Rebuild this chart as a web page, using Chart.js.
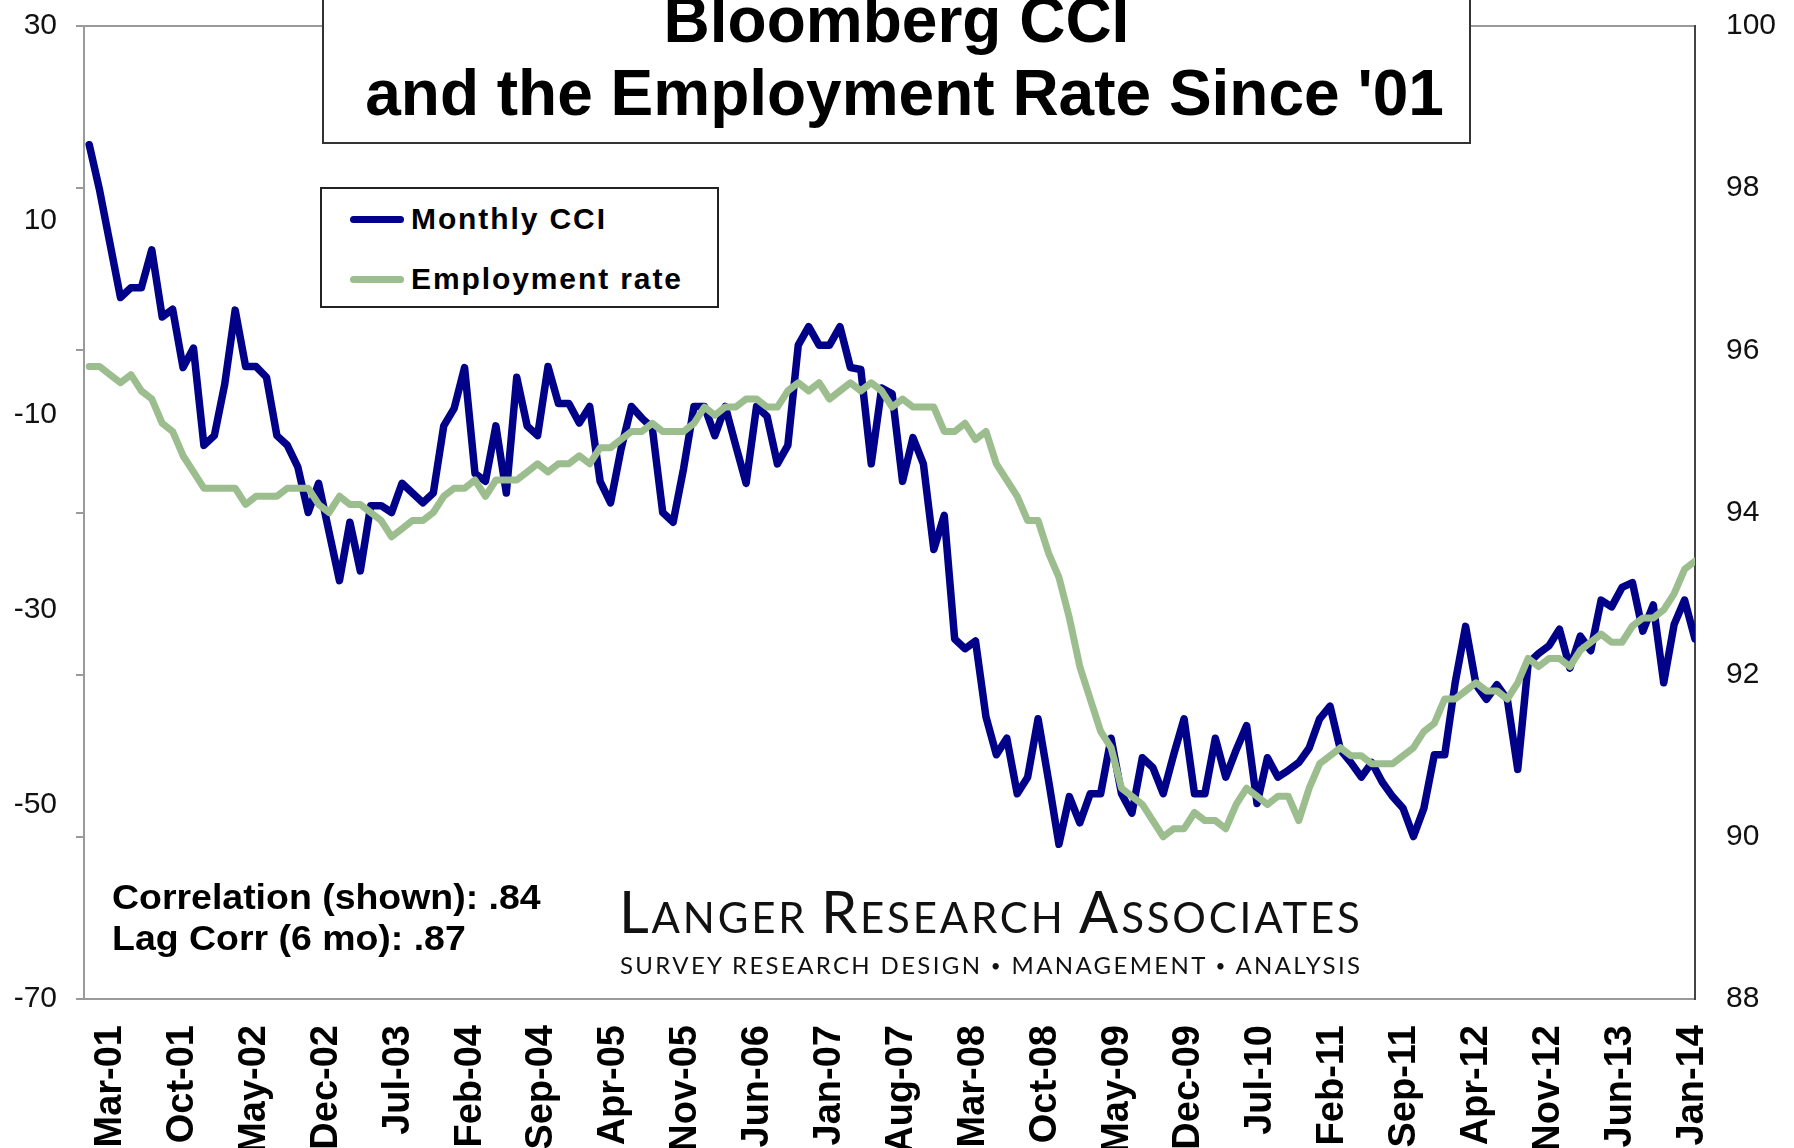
<!DOCTYPE html>
<html>
<head>
<meta charset="utf-8">
<title>Bloomberg CCI and the Employment Rate Since '01</title>
<script src="https://cdn.jsdelivr.net/npm/chart.js@4.4.1/dist/chart.umd.min.js"></script>
<style>
  html, body { margin: 0; padding: 0; background: #fff; }
  body {
    width: 1794px; height: 1148px; overflow: hidden; position: relative;
    font-family: "Liberation Sans", Arial, sans-serif; color: #000;
  }
  #chart { position: absolute; left: 0; top: 0; }

  /* title box, its top edge runs off the picture */
  .titlebox {
    position: absolute; left: 322px; top: -20px; width: 1149px; height: 164px;
    box-sizing: border-box; border: 2px solid #333; background: #fff;
  }
  .title {
    position: absolute; left: 322px; width: 1149px;
    text-align: center; font-weight: bold; font-size: 64px; line-height: 73px; white-space: nowrap;
  }
  .title.l1 { top: -16px; }
  .title.l2 { top: 57px; padding-left: 16px; box-sizing: border-box; }

  /* legend box */
  #legend {
    position: absolute; left: 320px; top: 187px; width: 399px; height: 121px;
    box-sizing: border-box; border: 2px solid #222; background: #fff;
  }
  #legend .row { height: 60px; display: flex; align-items: center; }
  #legend .swatch { display: inline-block; width: 54px; height: 7px; border-radius: 3.5px; margin-left: 28px; margin-right: 7px; }
  #legend .lab { font-weight: bold; font-size: 30px; letter-spacing: 1.9px; }

  .corr {
    position: absolute; left: 112px; top: 876px; font-weight: bold; font-size: 35px;
    line-height: 41px; transform: scaleX(1.07); transform-origin: left top; white-space: nowrap;
  }

  /* logo */
  .logo1 {
    position: absolute; left: 619px; top: 883px; font-family: Lato, "Open Sans", sans-serif;
    font-size: 42px; line-height: 56px; letter-spacing: 2.8px; color: #111; white-space: nowrap;
  }
  .logo1 .big { font-size: 58px; }
  .logo2 {
    position: absolute; left: 620px; top: 953px; font-family: Lato, "Open Sans", sans-serif;
    font-size: 24px; line-height: 24px; letter-spacing: 2.35px; color: #111; white-space: nowrap;
  }
  .logo2 .dot { font-size: 17px; vertical-align: 2px; }
</style>
</head>
<body>
<canvas id="chart" width="1794" height="1148"></canvas>

<div class="titlebox"></div>
<div class="title l1">Bloomberg CCI</div>
<div class="title l2">and the Employment Rate Since '01</div>

<div id="legend"></div>

<div class="corr">Correlation (shown): .84<br>Lag Corr (6 mo): .87</div>

<div class="logo1"><span class="big">L</span>ANGER <span class="big">R</span>ESEARCH <span class="big">A</span>SSOCIATES</div>
<div class="logo2">SURVEY RESEARCH DESIGN <span class="dot">•</span> MANAGEMENT <span class="dot">•</span> ANALYSIS</div>

<script>
// --- data --------------------------------------------------------------------

// one label every 7 months, starting at the first point
const xTickLabels = [
  "Mar-01", "Oct-01", "May-02", "Dec-02", "Jul-03", "Feb-04", "Sep-04", "Apr-05",
  "Nov-05", "Jun-06", "Jan-07", "Aug-07", "Mar-08", "Oct-08", "May-09", "Dec-09",
  "Jul-10", "Feb-11", "Sep-11", "Apr-12", "Nov-12", "Jun-13", "Jan-14",
];

// Monthly CCI, Mar-01 .. Jan-14 (left axis)
const cci = [
  17.8, 13.1, 7.6, 2.1, 3.1, 3.1, 7.0, 0.1, 0.9, -5.1,
  -3.1, -13.1, -12.1, -6.8, 0.8, -5.0, -5.0, -6.1, -12.1, -13.1,
  -15.3, -20.0, -17.0, -22.0, -27.0, -21.0, -26.0, -19.3, -19.3, -20.0,
  -17.0, -18.0, -19.0, -18.0, -11.1, -9.3, -5.1, -16.0, -16.8, -11.1,
  -18.0, -6.1, -11.1, -12.1, -5.0, -8.8, -8.8, -10.8, -9.1, -16.8,
  -19.0, -13.5, -9.1, -10.3, -11.3, -20.0, -21.0, -15.5, -9.1, -9.1,
  -12.1, -9.1, -13.1, -17.0, -9.1, -10.1, -15.0, -13.1, -2.8, -0.9,
  -2.8, -2.8, -0.9, -5.1, -5.3, -15.0, -7.2, -7.8, -16.8, -12.3,
  -15.0, -23.8, -20.3, -33.0, -34.0, -33.2, -41.0, -44.9, -43.2, -48.9,
  -47.2, -41.2, -47.5, -54.1, -49.2, -51.9, -48.9, -48.9, -43.2, -48.9,
  -50.9, -45.2, -46.2, -48.9, -44.9, -41.2, -48.9, -48.9, -43.2, -47.2,
  -44.4, -41.9, -49.9, -45.2, -47.2, -46.5, -45.7, -44.2, -41.2, -39.9,
  -44.4, -45.7, -47.2, -45.7, -47.7, -49.2, -50.4, -53.3, -50.4, -44.9,
  -44.9, -37.5, -31.7, -37.7, -39.2, -37.7, -39.2, -46.4, -35.5, -34.5,
  -33.7, -32.0, -36.0, -32.7, -34.2, -29.0, -29.7, -27.7, -27.2, -32.2,
  -29.5, -37.5, -31.5, -29.0, -33.0,
];

// Employment rate, same months (right axis)
const employment = [
  95.8, 95.8, 95.7, 95.6, 95.7, 95.5, 95.4, 95.1, 95.0, 94.7,
  94.5, 94.3, 94.3, 94.3, 94.3, 94.1, 94.2, 94.2, 94.2, 94.3,
  94.3, 94.3, 94.1, 94.0, 94.2, 94.1, 94.1, 94.0, 93.9, 93.7,
  93.8, 93.9, 93.9, 94.0, 94.2, 94.3, 94.3, 94.4, 94.2, 94.4,
  94.4, 94.4, 94.5, 94.6, 94.5, 94.6, 94.6, 94.7, 94.6, 94.8,
  94.8, 94.9, 95.0, 95.0, 95.1, 95.0, 95.0, 95.0, 95.1, 95.3,
  95.2, 95.3, 95.3, 95.4, 95.4, 95.3, 95.3, 95.5, 95.6, 95.5,
  95.6, 95.4, 95.5, 95.6, 95.5, 95.6, 95.5, 95.3, 95.4, 95.3,
  95.3, 95.3, 95.0, 95.0, 95.1, 94.9, 95.0, 94.6, 94.4, 94.2,
  93.9, 93.9, 93.5, 93.2, 92.7, 92.1, 91.7, 91.3, 91.1, 90.6,
  90.5, 90.4, 90.2, 90.0, 90.1, 90.1, 90.3, 90.2, 90.2, 90.1,
  90.4, 90.6, 90.5, 90.4, 90.5, 90.5, 90.2, 90.6, 90.9, 91.0,
  91.1, 91.0, 91.0, 90.9, 90.9, 90.9, 91.0, 91.1, 91.3, 91.4,
  91.7, 91.7, 91.8, 91.9, 91.8, 91.8, 91.7, 91.9, 92.2, 92.1,
  92.2, 92.2, 92.1, 92.3, 92.4, 92.5, 92.4, 92.4, 92.6, 92.7,
  92.7, 92.8, 93.0, 93.3, 93.4,
];

// axis ranges
const CCI_MIN = -70, CCI_MAX = 30, CCI_STEP = 20;
const EMP_MIN = 88, EMP_MAX = 100, EMP_STEP = 2;
// in the original the month labels sit a little off the point grid,
// so they get their own axis (label k at value k)
const LABEL_AXIS_MIN = -0.37, LABEL_AXIS_MAX = 22.04;

// --- chart ---------------------------------------------------------------------

const NAVY = "#000088";
const SAGE = "#9cbd8e";
const AXIS_GREY = "#9a9a9a";
const FONT = "'Liberation Sans', Arial, sans-serif";

const toXY = (arr) => arr.map((v, i) => ({ x: i, y: v }));
const lastIndex = cci.length - 1;

// an axis that only draws its border line
const frameOnly = (extra) => Object.assign({
  type: "linear",
  ticks: { display: false },
  grid: { display: false, drawTicks: false },
}, extra);

const chart = new Chart(document.getElementById("chart"), {
  type: "line",
  data: {
    datasets: [
      { label: "Monthly CCI", data: toXY(cci), yAxisID: "y", borderColor: NAVY,
        borderWidth: 7.5, order: 1 },
      { label: "Employment rate", data: toXY(employment), yAxisID: "yR", borderColor: SAGE,
        borderWidth: 7, order: 0 },
    ],
  },
  options: {
    responsive: false,
    animation: false,
    devicePixelRatio: 1,
    layout: { padding: { top: 26, left: 0, right: 0, bottom: 0 } },
    elements: {
      point: { radius: 0 },
      line: { tension: 0, borderJoinStyle: "round", borderCapStyle: "round" },
    },
    plugins: { legend: { display: false }, tooltip: { enabled: false } },
    scales: {
      // month index axis for the data, draws the bottom frame line
      x: frameOnly({
        position: "bottom", weight: 0, min: -0.5, max: lastIndex,
        afterFit: (s) => { s.height = 0; },
        border: { display: true, color: AXIS_GREY, width: 2 },
      }),
      xLabels: {
        type: "linear", position: "bottom", weight: 1,
        min: LABEL_AXIS_MIN, max: LABEL_AXIS_MAX,
        afterBuildTicks: (s) => { s.ticks = xTickLabels.map((_, k) => ({ value: k })); },
        afterFit: (s) => { s.height = 149; },
        ticks: {
          autoSkip: false, minRotation: 90, maxRotation: 90, padding: 26,
          color: "#000", font: { family: FONT, size: 38, weight: "bold" },
          callback: (v) => xTickLabels[Math.round(v)],
        },
        grid: { display: false, drawTicks: false },
        border: { display: false },
      },
      // top edge of the plot frame
      xTop: frameOnly({
        position: "top", min: -0.5, max: lastIndex,
        afterFit: (s) => { s.height = 0; },
        border: { display: true, color: AXIS_GREY, width: 2 },
      }),
      // short tick marks on the left edge, they follow the right-hand scale
      yMarks: {
        type: "linear", position: "left", weight: 0, min: EMP_MIN, max: EMP_MAX,
        afterFit: (s) => { s.width = 27; },
        ticks: { display: false, stepSize: EMP_STEP },
        grid: { drawOnChartArea: false, drawTicks: true, tickLength: 8, color: AXIS_GREY, lineWidth: 2 },
        border: { display: true, color: AXIS_GREY, width: 2 },
      },
      y: {
        type: "linear", position: "left", weight: 1, min: CCI_MIN, max: CCI_MAX,
        afterFit: (s) => { s.width = 57; },
        ticks: { stepSize: CCI_STEP, padding: 0, color: "#111",
          font: { family: FONT, size: 30 } },
        grid: { display: false, drawTicks: false },
        border: { display: false },
      },
      // right edge of the plot frame, also the gap before the right labels
      yRFrame: frameOnly({
        position: "right", weight: 0, min: EMP_MIN, max: EMP_MAX,
        afterFit: (s) => { s.width = 31; },
        border: { display: true, color: "#444", width: 2 },
      }),
      yR: {
        type: "linear", position: "right", weight: 1, min: EMP_MIN, max: EMP_MAX,
        afterFit: (s) => { s.width = 68; },
        ticks: { stepSize: EMP_STEP, padding: 0, color: "#111",
          font: { family: FONT, size: 30 } },
        grid: { display: false, drawTicks: false },
        border: { display: false },
      },
    },
  },
});

// HTML legend built from the datasets
const legend = document.getElementById("legend");
chart.data.datasets.forEach((ds) => {
  const row = document.createElement("div");
  row.className = "row";
  row.innerHTML = `<span class="swatch" style="background:${ds.borderColor}"></span>` +
    `<span class="lab">${ds.label}</span>`;
  legend.appendChild(row);
});
</script>
</body>
</html>
